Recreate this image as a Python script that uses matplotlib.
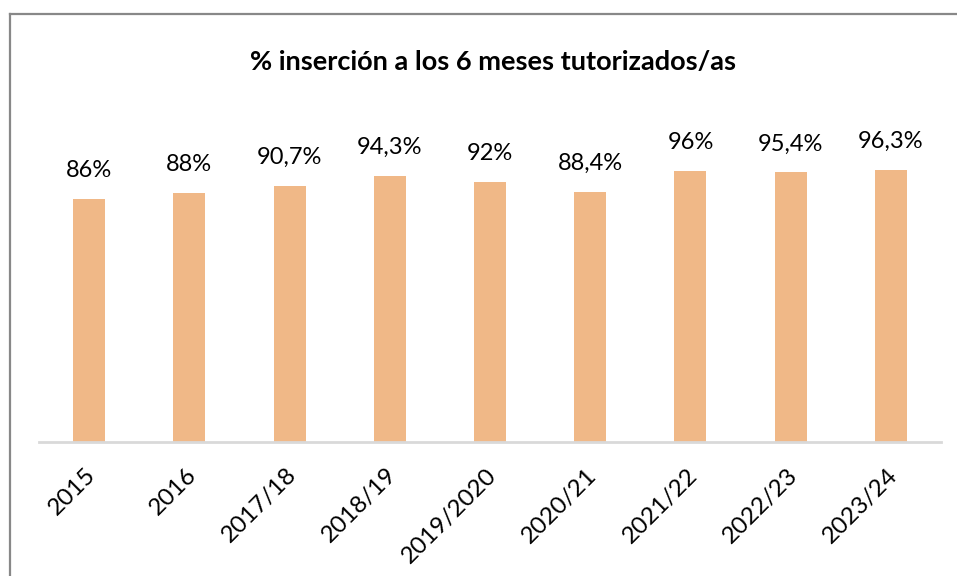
import matplotlib.pyplot as plt
from matplotlib.lines import Line2D
from matplotlib.transforms import ScaledTranslation

# datos
categorias = ['2015', '2016', '2017/18', '2018/19', '2019/2020', '2020/21', '2021/22', '2022/23', '2023/24']
valores = [86, 88, 90.7, 94.3, 92, 88.4, 96, 95.4, 96.3]
etiquetas = ['86%', '88%', '90,7%', '94,3%', '92%', '88,4%', '96%', '95,4%', '96,3%']

plt.rcParams['font.family'] = ['Lato', 'DejaVu Sans']

W, H = 957, 576
fig = plt.figure(figsize=(W / 100, H / 100), dpi=100)

# area del grafico (en pixeles del original)
x0, x1 = 39, 941
y_base = 442
px_por_unidad = 2.826
y_top = y_base - 100 * px_por_unidad
ax = fig.add_axes([x0 / W, 1 - y_base / H, (x1 - x0) / W, (y_base - y_top) / H])

pos = range(len(categorias))
ax.bar(pos, valores, width=0.32, color='#F0B887')
ax.set_xlim(-0.5, len(categorias) - 0.5)
ax.set_ylim(0, 100)

for i, (v, t) in enumerate(zip(valores, etiquetas)):
    ax.annotate(t, (i, v), xytext=(0, 13), textcoords='offset points',
                ha='center', va='bottom', fontsize=17, color='#000000')

ax.set_xticks(list(pos))
ax.set_xticklabels(categorias, rotation=45, ha='right', rotation_mode='anchor',
                   fontsize=17.5)
ax.tick_params(axis='x', length=0, pad=16)
# desplazar un poco las etiquetas a la izquierda
desp = ScaledTranslation(-4 / 100, 0, fig.dpi_scale_trans)
for lbl in ax.get_xticklabels():
    lbl.set_transform(lbl.get_transform() + desp)
ax.set_yticks([])
for s in ['top', 'right', 'left']:
    ax.spines[s].set_visible(False)
ax.spines['bottom'].set_color('#D9D9D9')
ax.spines['bottom'].set_linewidth(2)
ax.patch.set_alpha(0)

# titulo
fig.text(493 / W, 1 - 62 / H, '% inserción a los 6 meses tutorizados/as',
         ha='center', va='center', fontsize=19.5, fontweight='bold')

# marco
fig.add_artist(Line2D([9.5 / W, 9.5 / W], [0, 1 - 13.5 / H], color='#888888', lw=1.6,
                      transform=fig.transFigure))
fig.add_artist(Line2D([9.5 / W, 1], [1 - 13.5 / H, 1 - 13.5 / H], color='#888888', lw=1.6,
                      transform=fig.transFigure))

fig.savefig('out.png', dpi=100)
